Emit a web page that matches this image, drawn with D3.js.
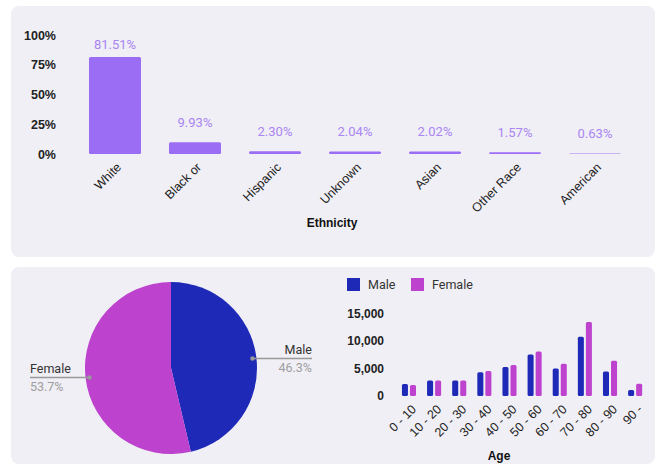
<!DOCTYPE html>
<html>
<head>
<meta charset="utf-8">
<script src="https://cdn.jsdelivr.net/npm/d3@7"></script>
<style>
  body { margin: 0; background: #fff; }
  svg { display: block; }
  .tick text { font-family: "Liberation Sans", Arial, sans-serif; fill: #222; }
</style>
</head>
<body>
<div id="chart"></div>
<script>
// data
var ethnicities = ["White", "Black or", "Hispanic", "Unknown", "Asian", "Other Race", "American"];
var ethnicityPct = [81.51, 9.93, 2.30, 2.04, 2.02, 1.57, 0.63];
var pctTicks = [0, 25, 50, 75, 100];

var sexes = ["Male", "Female"];
var sexShare = [46.3, 53.7];

var ageGroups = ["0 - 10", "10 - 20", "20 - 30", "30 - 40", "40 - 50", "50 - 60", "60 - 70", "70 - 80", "80 - 90", "90 -"];
var maleCounts = [2180, 2800, 2800, 4300, 5270, 7560, 5020, 10780, 4470, 1090];
var femaleCounts = [2000, 2800, 2800, 4550, 5640, 8110, 5870, 13450, 6420, 2240];
var countTicks = [0, 5000, 10000, 15000];

var svgWidth = 657;
var svgHeight = 466;

var colors = { male: "#1f29b8", female: "#bd42cd", bar: "#9b6cf4", barLabel: "#a985f3" };

var svg = d3.select("#chart")
  .append("svg")
  .attr("width", svgWidth)
  .attr("height", svgHeight);

// panels
svg.append("rect")
  .attr("x", 11).attr("y", 6).attr("width", 644).attr("height", 251)
  .attr("rx", 8).attr("fill", "#f0eff5");
svg.append("rect")
  .attr("x", 11).attr("y", 267).attr("width", 644).attr("height", 197)
  .attr("rx", 8).attr("fill", "#f0eff5");

// ---------- Ethnicity bar chart ----------
var xEth = d3.scaleBand()
  .domain(ethnicities)
  .range([75, 635])
  .paddingInner(0.35)
  .paddingOuter(0.175);

var yPct = d3.scaleLinear()
  .domain([0, 100])
  .range([154, 35]);

var topAxis = svg.append("g")
  .attr("transform", "translate(62,0)")
  .call(d3.axisLeft(yPct).tickValues(pctTicks).tickFormat(d => d + "%").tickSize(0).tickPadding(6));
topAxis.select(".domain").remove();
topAxis.selectAll("text")
  .attr("font-size", "12.5px")
  .attr("font-weight", "bold");

svg.append("g").selectAll("rect")
  .data(ethnicities)
  .enter()
  .append("rect")
  .attr("x", d => xEth(d))
  .attr("y", (d, i) => yPct(ethnicityPct[i]))
  .attr("width", xEth.bandwidth())
  .attr("height", (d, i) => Math.max(0.8, yPct(0) - yPct(ethnicityPct[i])))
  .attr("rx", 1.5)
  .attr("fill", colors.bar)
  .attr("opacity", (d, i) => ethnicityPct[i] < 1 ? 0.6 : 1);

svg.append("g").selectAll("text")
  .data(ethnicities)
  .enter()
  .append("text")
  .attr("x", d => xEth(d) + xEth.bandwidth() / 2)
  .attr("y", (d, i) => Math.max(yPct(ethnicityPct[i]) - 20, 44))
  .attr("dy", "0.35em")
  .attr("text-anchor", "middle")
  .attr("font-family", "Roboto, sans-serif")
  .attr("font-size", "13px")
  .attr("fill", colors.barLabel)
  .text((d, i) => ethnicityPct[i].toFixed(2) + "%");

var ethAxis = svg.append("g")
  .attr("transform", "translate(0,154)")
  .call(d3.axisBottom(xEth).tickSize(0));
ethAxis.select(".domain").remove();
ethAxis.selectAll("text")
  .attr("x", 0).attr("y", 0).attr("dy", 0)
  .attr("transform", "translate(7,14) rotate(-45)")
  .attr("text-anchor", "end")
  .attr("font-size", "12.5px");

svg.append("text")
  .attr("x", 332)
  .attr("y", 227)
  .attr("text-anchor", "middle")
  .attr("font-family", "Liberation Sans, Arial, sans-serif")
  .attr("font-weight", "bold")
  .attr("font-size", "12px")
  .attr("fill", "#111")
  .text("Ethnicity");

// ---------- Sex pie ----------
var pieCx = 171, pieCy = 368, pieR = 86;
var pieGroup = svg.append("g")
  .attr("transform", `translate(${pieCx}, ${pieCy})`);

var pie = d3.pie().sort(null).value(d => d);
var arcs = pie(sexShare);
var arc = d3.arc().innerRadius(0).outerRadius(pieR);
var dotArc = d3.arc().innerRadius(82).outerRadius(82);

pieGroup.selectAll("path")
  .data(arcs)
  .enter()
  .append("path")
  .attr("d", arc)
  .attr("fill", (d, i) => i == 0 ? colors.male : colors.female);

arcs.forEach(function(a, i) {
  var p = dotArc.centroid(a);
  var right = p[0] > 0;
  var endX = right ? 141 : -141;
  pieGroup.append("line")
    .attr("x1", p[0]).attr("y1", p[1])
    .attr("x2", endX).attr("y2", p[1])
    .attr("stroke", "#999").attr("stroke-width", 1.3);
  pieGroup.append("circle")
    .attr("cx", p[0]).attr("cy", p[1]).attr("r", 2.2)
    .attr("fill", "#999");
  pieGroup.append("text")
    .attr("x", endX).attr("y", p[1] - 5)
    .attr("text-anchor", right ? "end" : "start")
    .attr("font-family", "Roboto, sans-serif")
    .attr("font-size", "12.5px")
    .attr("fill", "#333")
    .text(sexes[i]);
  pieGroup.append("text")
    .attr("x", endX).attr("y", p[1] + 13)
    .attr("text-anchor", right ? "end" : "start")
    .attr("font-family", "Roboto, sans-serif")
    .attr("font-size", "12.5px")
    .attr("fill", "#9e9e9e")
    .text(sexShare[i].toFixed(1) + "%");
});

// ---------- Age grouped bars ----------
var xAge = d3.scaleBand()
  .domain(ageGroups)
  .range([396.4, 647.7])
  .paddingInner(0.44)
  .paddingOuter(0.22);

var xSex = d3.scaleBand()
  .domain(sexes)
  .range([0, xAge.bandwidth()])
  .paddingInner(0.25);

var yCount = d3.scaleLinear()
  .domain([0, 15000])
  .range([396, 313.5]);

var countAxis = svg.append("g")
  .attr("transform", "translate(390,0)")
  .call(d3.axisLeft(yCount).tickValues(countTicks).tickFormat(d3.format(",")).tickSize(0).tickPadding(6));
countAxis.select(".domain").remove();
countAxis.selectAll("text")
  .attr("font-size", "12px")
  .attr("font-weight", "bold");

var ageRows = ageGroups.map((g, i) => ({ group: g, values: [maleCounts[i], femaleCounts[i]] }));

var groups = svg.append("g").selectAll("g")
  .data(ageRows)
  .enter()
  .append("g")
  .attr("transform", d => `translate(${xAge(d.group)}, 0)`);

groups.selectAll("rect")
  .data(d => d.values.map((v, j) => ({ sex: sexes[j], value: v })))
  .enter()
  .append("rect")
  .attr("x", d => xSex(d.sex))
  .attr("y", d => yCount(d.value))
  .attr("width", xSex.bandwidth())
  .attr("height", d => yCount(0) - yCount(d.value))
  .attr("rx", 1.5)
  .attr("fill", d => d.sex == "Male" ? colors.male : colors.female);

var ageAxis = svg.append("g")
  .attr("transform", "translate(0,396)")
  .call(d3.axisBottom(xAge).tickSize(0));
ageAxis.select(".domain").remove();
ageAxis.selectAll("text")
  .attr("x", 0).attr("y", 0).attr("dy", 0)
  .attr("transform", "translate(8,14) rotate(-45)")
  .attr("text-anchor", "end")
  .attr("font-size", "12.5px");

svg.append("text")
  .attr("x", 499)
  .attr("y", 460)
  .attr("text-anchor", "middle")
  .attr("font-family", "Liberation Sans, Arial, sans-serif")
  .attr("font-weight", "bold")
  .attr("font-size", "12px")
  .attr("fill", "#111")
  .text("Age");

// legend
var legend = svg.append("g").selectAll("g")
  .data(sexes)
  .enter()
  .append("g")
  .attr("transform", (d, i) => `translate(${347 + i * 64}, 278)`);

legend.append("rect")
  .attr("width", 13).attr("height", 13)
  .attr("fill", d => d == "Male" ? colors.male : colors.female);

legend.append("text")
  .attr("x", 21).attr("y", 6.5).attr("dy", "0.35em")
  .attr("font-family", "Roboto, sans-serif")
  .attr("font-size", "12.5px")
  .attr("fill", "#333")
  .text(d => d);
</script>
</body>
</html>
